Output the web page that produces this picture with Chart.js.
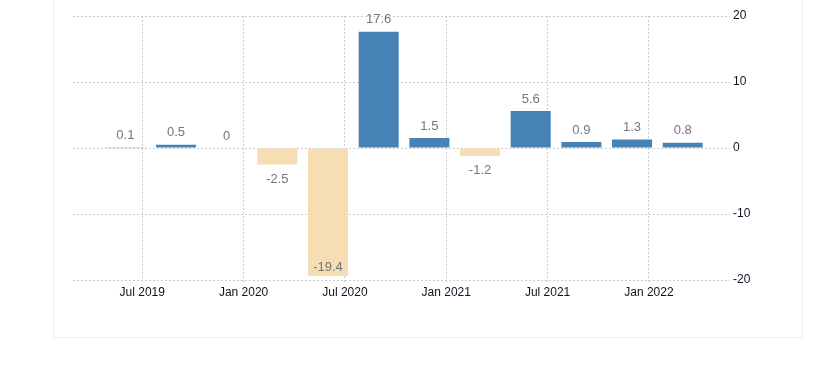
<!DOCTYPE html>
<html lang="en">
<head>
    <meta charset="UTF-8">
    <title>GDP Growth Rate</title>
    <script src="https://cdn.jsdelivr.net/npm/chart.js"></script>
    <style>
        body { margin: 0; background: #fff; overflow: hidden; }
        .frame {
            position: absolute; left: 53px; top: -2px;
            width: 748px; height: 338px;
            border: 1px solid #eeeeee;
        }
        #chart { position: absolute; left: 0; top: 0; }
    </style>
</head>
<body>
    <div class="frame"></div>
    <canvas id="chart" width="833" height="392"></canvas>

<script>
// quarters shown (Q2 2019 .. Q1 2022)
const quarters = ['Q2 2019', 'Q3 2019', 'Q4 2019', 'Q1 2020', 'Q2 2020', 'Q3 2020',
                  'Q4 2020', 'Q1 2021', 'Q2 2021', 'Q3 2021', 'Q4 2021', 'Q1 2022'];
const growth = [0.1, 0.5, 0, -2.5, -19.4, 17.6, 1.5, -1.2, 5.6, 0.9, 1.3, 0.8];

const xTickLabels = ['Jul 2019', 'Jan 2020', 'Jul 2020', 'Jan 2021', 'Jul 2021', 'Jan 2022'];
const yTicks = [-20, -10, 0, 10, 20];

const monthNames = ['Jan','Feb','Mar','Apr','May','Jun','Jul','Aug','Sep','Oct','Nov','Dec'];

// month index counted from Jan 2019
function quarterToMonth(q) {
    const parts = q.split(' ');
    const n = parseInt(parts[0].slice(1));
    return (parseInt(parts[1]) - 2019) * 12 + n * 3 - 1;
}
function labelToMonth(l) {
    const parts = l.split(' ');
    return (parseInt(parts[1]) - 2019) * 12 + monthNames.indexOf(parts[0]);
}

const points = quarters.map((q, i) => ({ x: quarterToMonth(q), y: growth[i] }));
const tickPos = xTickLabels.map(labelToMonth);

const FONT = "'Liberation Sans', Arial, sans-serif";

const valueLabels = {
    id: 'valueLabels',
    afterDatasetsDraw(chart) {
        const ctx = chart.ctx;
        const area = chart.chartArea;
        const meta = chart.getDatasetMeta(0);
        ctx.save();
        ctx.font = '13px ' + FONT;
        ctx.fillStyle = '#75757f';
        ctx.textAlign = 'center';
        ctx.textBaseline = 'middle';
        meta.data.forEach((bar, i) => {
            const v = growth[i];
            let y;
            if (v >= 0) {
                y = bar.y - 12;
            } else {
                y = bar.y + 15;
                if (y + 6 > area.bottom) y = bar.y - 9;
            }
            ctx.fillText(String(v), bar.x, y);
        });
        ctx.restore();
    }
};

const gridColor = '#cccccc';

new Chart(document.getElementById('chart'), {
    type: 'bar',
    data: {
        datasets: [{
            data: points,
            backgroundColor: growth.map(v => v < 0 ? '#f5deb3' : '#4682b4'),
            barPercentage: 0.79,
            categoryPercentage: 1.0
        }]
    },
    options: {
        responsive: false,
        devicePixelRatio: 1,
        animation: false,
        layout: { padding: { left: 73, top: 16, right: 0, bottom: 0 } },
        plugins: {
            legend: { display: false },
            tooltip: { enabled: false }
        },
        scales: {
            x: {
                type: 'linear',
                min: 1.9,
                max: 40.8,
                offset: false,
                grid: {
                    offset: false,
                    color: gridColor,
                    tickColor: gridColor,
                    tickLength: 3,
                    tickBorderDash: [2, 2]
                },
                border: { display: false, dash: [2, 2] },
                afterBuildTicks(scale) {
                    scale.ticks = tickPos.map(v => ({ value: v }));
                },
                afterFit(scale) { scale.height = 112; },
                ticks: {
                    autoSkip: false,
                    maxRotation: 0,
                    padding: 2,
                    color: '#111122',
                    font: { family: FONT, size: 12 },
                    callback: (value) => xTickLabels[tickPos.indexOf(value)]
                }
            },
            y: {
                position: 'right',
                min: -20,
                max: 20,
                grid: {
                    color: gridColor,
                    drawTicks: false
                },
                border: { display: false, dash: [2, 2] },
                afterBuildTicks(scale) {
                    scale.ticks = yTicks.map(v => ({ value: v }));
                },
                afterFit(scale) { scale.width = 103; },
                ticks: {
                    padding: 3,
                    color: '#111122',
                    font: { family: FONT, size: 12 }
                }
            }
        }
    },
    plugins: [valueLabels]
});
</script>
</body>
</html>
